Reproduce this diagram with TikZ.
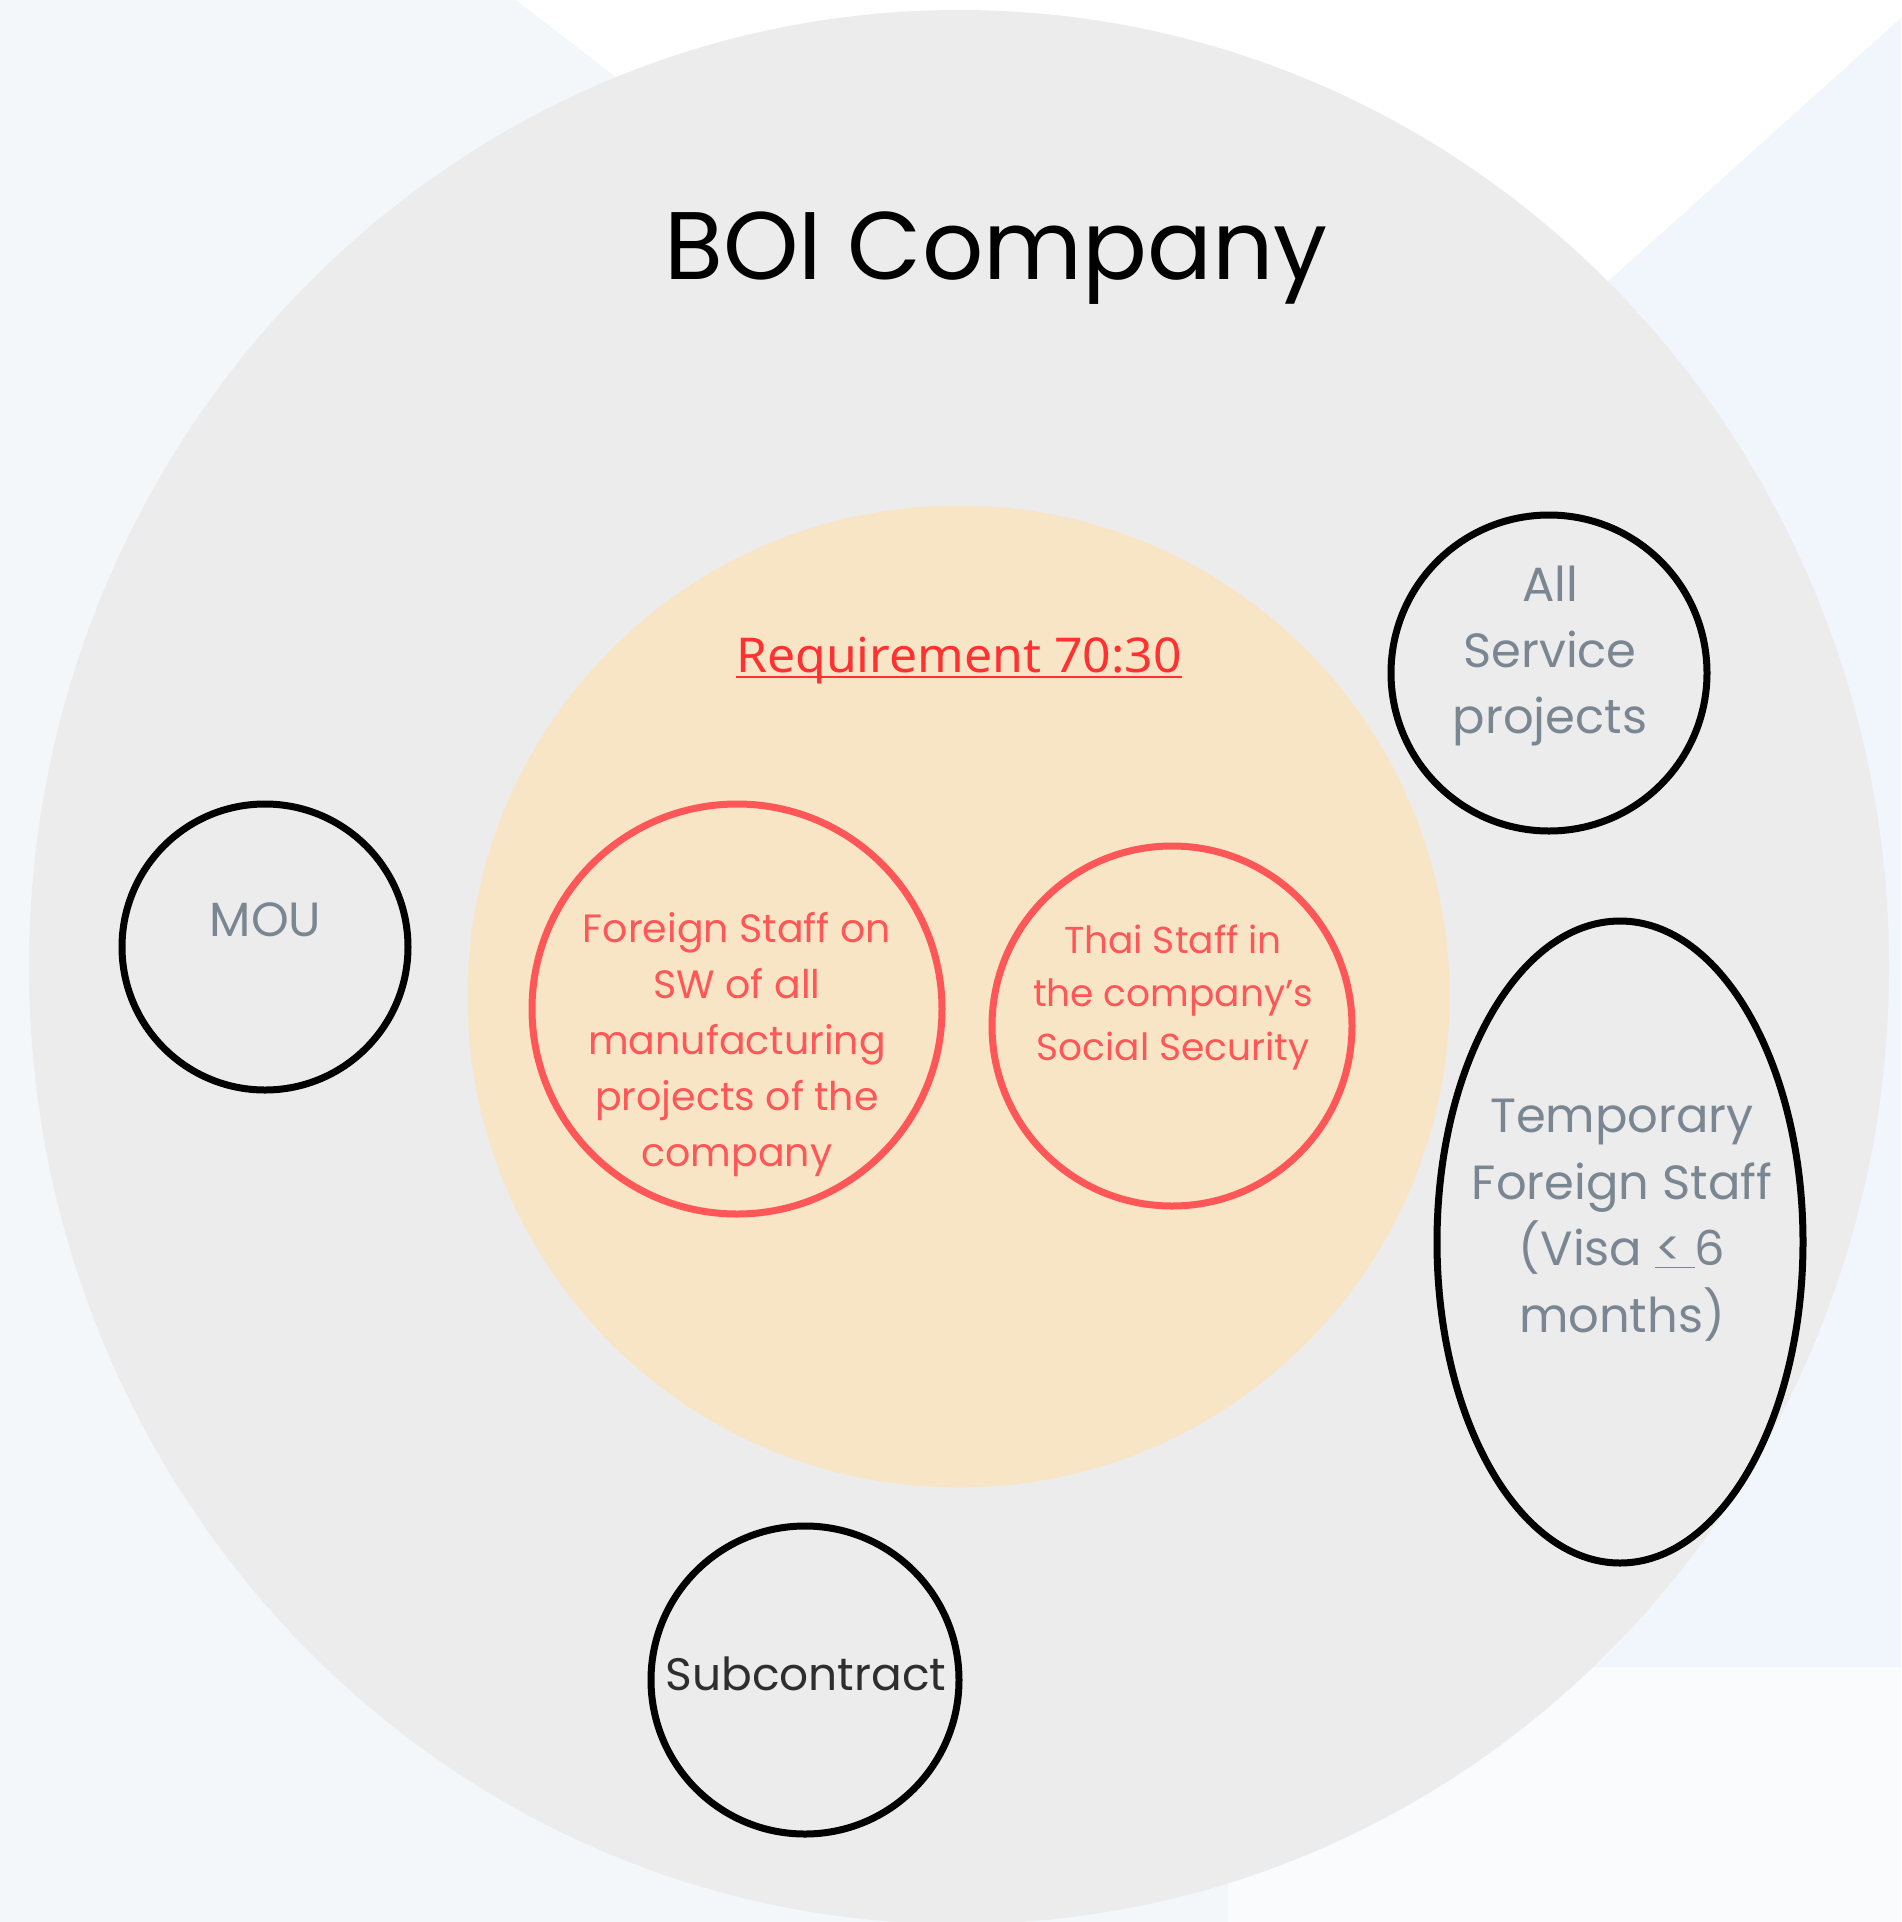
\documentclass[tikz,border=0pt]{standalone}
\usepackage{fontspec}
\setmainfont{Poppins}
\newfontfamily\reqfont[FakeStretch=1.04]{Noto Sans}
\usetikzlibrary{shapes.geometric}

\definecolor{bgleft}{HTML}{F4F7FA}
\definecolor{bgright}{HTML}{F1F5FC}
\definecolor{bglow}{HTML}{FAFBFD}
\definecolor{boigray}{HTML}{ECECEC}
\definecolor{reqbeige}{HTML}{F8E5C6}
\definecolor{staffred}{HTML}{FF5757}
\definecolor{reqred}{HTML}{FF3131}
\definecolor{notegray}{HTML}{7A8793}
\definecolor{subdark}{HTML}{2E2E2E}

\tikzset{every picture/.style={line width=0.75pt}}
\tikzset{
  ring/.style={circle, draw=black, line width=7pt, inner sep=0pt},
  redring/.style={circle, draw=staffred, line width=7pt, inner sep=0pt},
  notetext/.style={text=notegray, align=center, inner sep=0pt, anchor=base},
  stafftext/.style={text=staffred, align=center, inner sep=0pt, anchor=base}
}

\begin{document}
\begin{tikzpicture}[x=1pt,y=1pt,yscale=-1,xscale=1]
\useasboundingbox (0,0) rectangle (1901,1922);

%Background
\fill[bgleft] (0,0) rectangle (1901,1922);
\fill[white] (516,0) -- (1901,0) -- (1901,18) -- (1273,583) -- cycle;
\fill[bglow] (1228,1450) rectangle (1901,1922);
\fill[bgright] (1901,18) -- (1273,583) -- (1588,1667) -- (1901,1667) -- cycle;

%Shape: Ellipse [company]
\fill[boigray] (959,967) ellipse [x radius=930, y radius=957];
%Shape: Circle [requirement]
\fill[reqbeige] (958.5,996.5) circle (491);

%Shape: Circle
\node[redring, minimum size=410] (foreign) at (737,1009) {};
\node[redring, minimum size=360] (thai) at (1172,1026) {};
\node[ring, minimum size=286] (mou) at (265,947) {};
\node[ring, minimum size=316] (service) at (1549,673) {};
\node[ring, minimum size=308] (subcon) at (805,1680) {};
%Shape: Ellipse
\node[ellipse, draw=black, line width=7pt, inner sep=0pt, minimum width=366, minimum height=642] (temp) at (1620,1242) {};

% Text Node
\node[anchor=base, inner sep=0pt, font=\fontsize{96}{115}\selectfont] (title) at (996,279) {BOI Company};
% Text Node
\node[anchor=base, inner sep=0pt, text=reqred, font=\reqfont\fontsize{48}{58}\selectfont] (req) at (959,672) {Requirement 70:30};
\path (req.base west) ++(0,5) coordinate (ulw) (req.base east) ++(0,5) coordinate (ule);
\draw[reqred, line width=2.5pt] (ulw) -- (ule);
% Text Node
\node[stafftext, font=\fontsize{39.5}{56}\selectfont] (foreigntext) at (737,1166) {Foreign Staff on\\SW of all\\manufacturing\\projects of the\\company};
% Text Node
\node[stafftext, font=\fontsize{37.5}{53.5}\selectfont] (thaitext) at (1173,1060) {Thai Staff in\\the company’s\\Social Security};
% Text Node
\node[notetext, font=\fontsize{48}{66}\selectfont] (moutext) at (265.5,936) {MOU};
% Text Node
\node[notetext, font=\fontsize{48}{66}\selectfont] (servicetext) at (1550,733) {All\\Service\\projects};
% Text Node
\node[notetext, font=\fontsize{48}{66.5}\selectfont] (temptext) at (1622,1332) {Temporary\\Foreign Staff\\(Visa \underline{<\ }6\\months)};
% Text Node
\node[anchor=base, inner sep=0pt, text=subdark, font=\fontsize{45.5}{56}\selectfont] (subcontext) at (806,1690) {Subcontract};

\end{tikzpicture}
\end{document}
